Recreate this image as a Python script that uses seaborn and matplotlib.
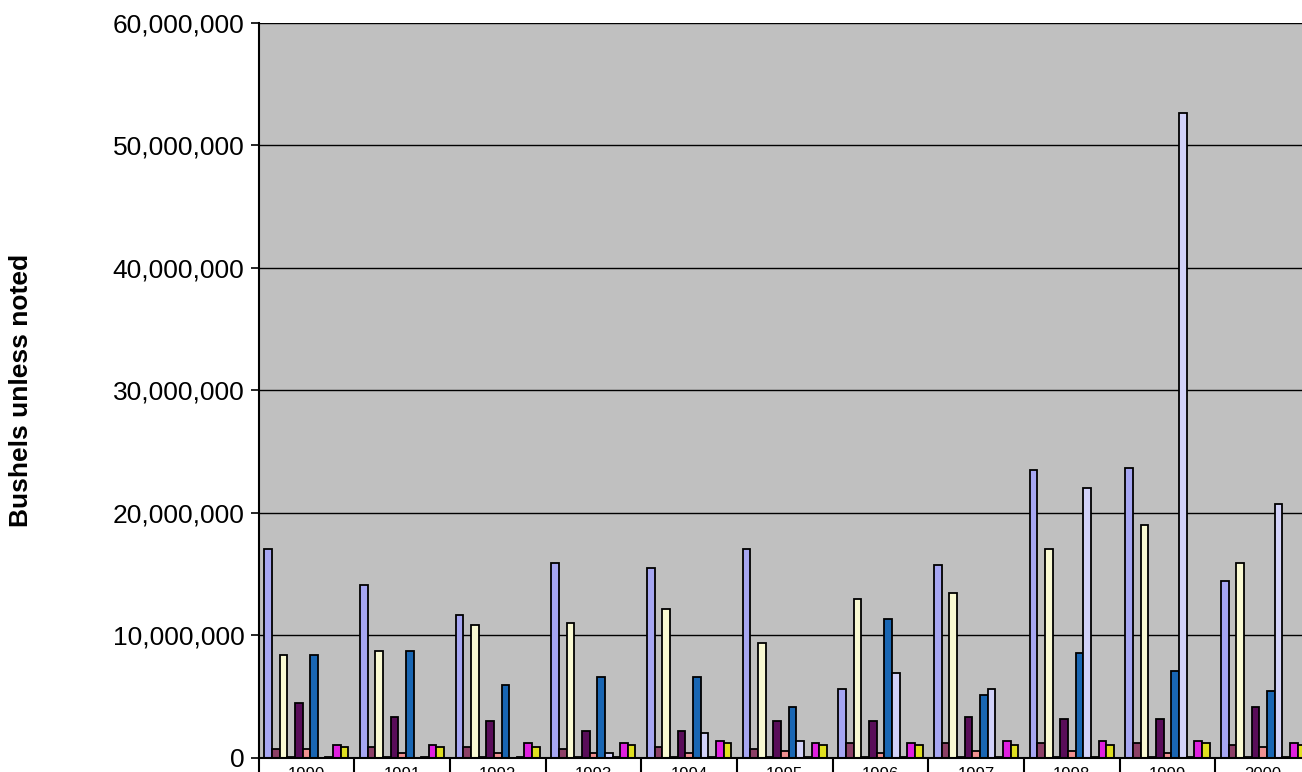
import numpy as np
import pandas as pd
import matplotlib
matplotlib.use("Agg")
import matplotlib.pyplot as plt
import matplotlib.ticker as mticker
import seaborn as sns

years = ["1990", "1991", "1992", "1993", "1994", "1995", "1996", "1997", "1998", "1999", "2000"]

series_names = ["Series 1", "Series 2", "Series 3", "Series 4", "Series 5", "Series 6",
                "Series 7", "Series 8", "Series 9", "Series 10", "Series 11"]

s1 = [17.0e6, 14.06e6, 11.6e6, 15.85e6, 15.5e6, 17.0e6, 5.57e6, 15.7e6, 23.44e6, 23.6e6, 14.43e6]
s2 = [0.69e6, 0.83e6, 0.83e6, 0.67e6, 0.83e6, 0.67e6, 1.16e6, 1.16e6, 1.15e6, 1.15e6, 0.98e6]
s3 = [8.34e6, 8.67e6, 10.8e6, 10.96e6, 12.1e6, 9.32e6, 12.9e6, 13.4e6, 17.05e6, 19.0e6, 15.9e6]
s4 = [0.03e6, 0.03e6, 0.03e6, 0.03e6, 0.03e6, 0.03e6, 0.03e6, 0.03e6, 0.03e6, 0.03e6, 0.03e6]
s5 = [4.45e6, 3.28e6, 2.95e6, 2.14e6, 2.14e6, 2.95e6, 2.95e6, 3.28e6, 3.11e6, 3.11e6, 4.1e6]
s6 = [0.69e6, 0.34e6, 0.34e6, 0.34e6, 0.34e6, 0.51e6, 0.34e6, 0.51e6, 0.49e6, 0.33e6, 0.82e6]
s7 = [8.34e6, 8.67e6, 5.89e6, 6.55e6, 6.55e6, 4.1e6, 11.28e6, 5.08e6, 8.52e6, 7.05e6, 5.41e6]
s8 = [0.0, 0.0, 0.0, 0.34e6, 1.98e6, 1.32e6, 6.87e6, 5.57e6, 21.97e6, 52.6e6, 20.66e6]
s9 = [0.06e6, 0.06e6, 0.02e6, 0.02e6, 0.06e6, 0.02e6, 0.02e6, 0.02e6, 0.04e6, 0.04e6, 0.02e6]
s10 = [1.02e6, 1.0e6, 1.16e6, 1.16e6, 1.32e6, 1.16e6, 1.16e6, 1.32e6, 1.31e6, 1.31e6, 1.15e6]
s11 = [0.86e6, 0.83e6, 0.83e6, 1.0e6, 1.16e6, 1.0e6, 1.0e6, 1.0e6, 0.98e6, 1.15e6, 0.98e6]

all_series = [s1, s2, s3, s4, s5, s6, s7, s8, s9, s10, s11]

colors = ["#9999FF", "#993366", "#FFFFCC", "#CCFFFF", "#660066", "#FF8080",
          "#0066CC", "#CCCCFF", "#000080", "#FF00FF", "#FFFF00"]

rows = []
for name, vals in zip(series_names, all_series):
    for y, v in zip(years, vals):
        rows.append({"Year": y, "Series": name, "Value": v})
df = pd.DataFrame(rows)

sns.set_style("white")
plt.rcParams["font.family"] = ["Liberation Sans", "DejaVu Sans"]

W, H = 1302, 772
fig = plt.figure(figsize=(W / 100, H / 100), dpi=100)
left_px, right_px, top_px, bot_px = 258.5, 1311.0, 22.5, 757.5
ax_w = right_px - left_px
ax = fig.add_axes([left_px / W, 1 - bot_px / H, ax_w / W, (bot_px - top_px) / H])
ax.set_facecolor("#C0C0C0")

sns.barplot(data=df, x="Year", y="Value", hue="Series", order=years,
            hue_order=series_names, palette=colors, width=0.88, gap=0,
            edgecolor="black", linewidth=1.3, legend=False, ax=ax, errorbar=None)

ax.set_xlim(-0.5, len(years) - 0.5)
ax.set_ylim(0, 60e6)
ax.yaxis.set_major_locator(mticker.MultipleLocator(10e6))
ax.yaxis.set_major_formatter(mticker.FuncFormatter(lambda v, p: f"{int(v):,}"))
ax.grid(axis="y", color="black", linewidth=1.0)
ax.set_axisbelow(True)

for sp in ["top", "right"]:
    ax.spines[sp].set_visible(False)
for sp in ["left", "bottom"]:
    ax.spines[sp].set_color("black")
    ax.spines[sp].set_linewidth(1.5)

ax.tick_params(axis="y", which="major", direction="out", length=6, width=1.2,
               color="black", labelsize=19, pad=4, left=True, labelcolor="black")
ax.tick_params(axis="x", which="major", length=0, labelsize=12, pad=7, labelcolor="black")
ax.set_xticks(range(len(years)))
ax.set_xticklabels(years)
ax.set_xticks(np.arange(-0.5, len(years), 1.0), minor=True)
ax.tick_params(axis="x", which="minor", direction="out", length=20, width=1.5,
               color="black", bottom=True)

ax.set_xlabel("")
ax.set_ylabel("Bushels unless noted", fontsize=19, fontweight="bold", color="black")
ax.yaxis.set_label_coords((33 - left_px) / ax_w, 0.5)

fig.savefig("out.png", dpi=100)
